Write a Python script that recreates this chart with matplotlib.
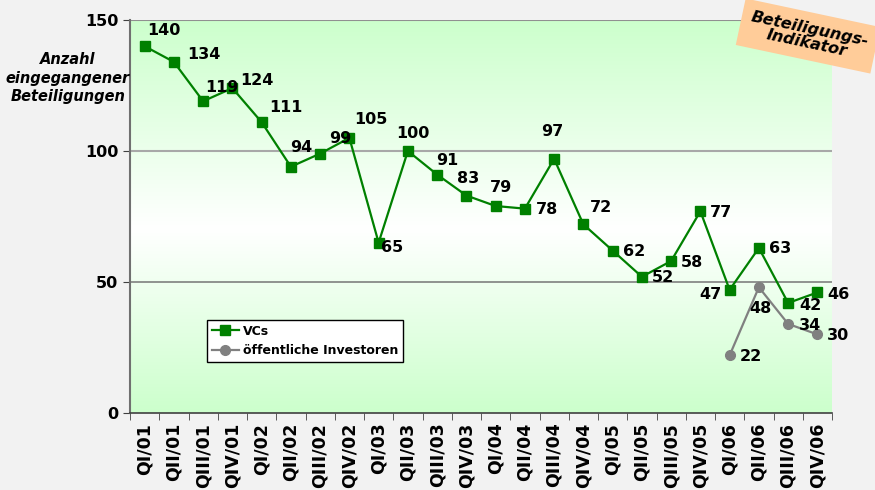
import matplotlib
matplotlib.use('Agg')
import matplotlib.pyplot as plt
import numpy as np
from matplotlib.colors import LinearSegmentedColormap

quarters = ['QI/01', 'QII/01', 'QIII/01', 'QIV/01', 'QI/02', 'QII/02', 'QIII/02', 'QIV/02',
            'QI/03', 'QII/03', 'QIII/03', 'QIV/03', 'QI/04', 'QII/04', 'QIII/04', 'QIV/04',
            'QI/05', 'QII/05', 'QIII/05', 'QIV/05', 'QI/06', 'QII/06', 'QIII/06', 'QIV/06']
vcs = [140, 134, 119, 124, 111, 94, 99, 105, 65, 100, 91, 83,
       79, 78, 97, 72, 62, 52, 58, 77, 47, 63, 42, 46]
oeff_quarters = ['QI/06', 'QII/06', 'QIII/06', 'QIV/06']
oeff = [22, 48, 34, 30]

# label offsets in pixels (dx, dy), dy positive = up
vcs_off = [(19, 16), (30, 7), (19, 14), (25, 8), (24, 15), (10, 19), (20, 15), (21, 18),
           (13, -5), (5, 18), (10, 14), (2, 17), (5, 19), (22, -1), (-2, 27), (18, 17),
           (21, -1), (21, -1), (21, -1), (21, -1), (-19, -5), (21, -1), (22, -3), (21, -2)]
oeff_off = [(21, -1), (2, -21), (22, -2), (21, -1)]

fig = plt.figure(figsize=(8.75, 4.9), dpi=100)
fig.patch.set_facecolor('#f2f2f2')
ax = fig.add_axes([130 / 875, 77 / 490, 702 / 875, 393 / 490])

n = len(quarters)
x = np.arange(n)
ax.set_xlim(-0.5, n - 0.5)
ax.set_ylim(0, 150)

# background gradient: green top and bottom, white in between
cmap = LinearSegmentedColormap.from_list('bg', [(0, '#ccffcc'), (70 / 150, '#ffffff'), (1, '#ccffcc')])
grad = np.linspace(0, 1, 256).reshape(-1, 1)
ax.imshow(grad, extent=(-0.5, n - 0.5, 0, 150), origin='lower', aspect='auto', cmap=cmap, zorder=0)

ax.axhline(50, color='#808080', lw=1.2, zorder=1)
ax.axhline(100, color='#a8a8a8', lw=1.5, zorder=1)
ax.axhline(150, color='#909090', lw=1.5, zorder=1)

ax.plot(x, vcs, color='#008000', marker='s', markersize=7, lw=1.6, label='VCs', zorder=3)
ox = [quarters.index(q) for q in oeff_quarters]
ax.plot(ox, oeff, color='#808080', marker='o', markersize=7, lw=1.6,
        label='öffentliche Investoren', zorder=3)

for xi, v, (dx, dy) in zip(x, vcs, vcs_off):
    ax.annotate(str(v), (xi, v), xytext=(dx, dy), textcoords='offset pixels',
                ha='center', va='center', fontsize=11.5, fontweight='bold', zorder=4)
for xi, v, (dx, dy) in zip(ox, oeff, oeff_off):
    ax.annotate(str(v), (xi, v), xytext=(dx, dy), textcoords='offset pixels',
                ha='center', va='center', fontsize=11.5, fontweight='bold', zorder=4)

ax.set_yticks([0, 50, 100, 150])
ax.set_yticklabels(['0', '50', '100', '150'], fontsize=11.5, fontweight='bold')
ax.set_xticks(x)
ax.set_xticklabels(quarters, rotation=90, fontsize=12.5, fontweight='bold', va='top')
ax.set_xticks(np.arange(-0.5, n), minor=True)
ax.tick_params(axis='x', which='major', length=0, pad=7)
ax.tick_params(axis='x', which='minor', length=5, color='#404040')
ax.tick_params(axis='y', length=5, color='#404040')

for s in ['top', 'right']:
    ax.spines[s].set_visible(False)
ax.spines['left'].set_color('#707070')
ax.spines['bottom'].set_color('#404040')
ax.spines['left'].set_linewidth(1.5)
ax.spines['bottom'].set_linewidth(1.2)

leg = ax.legend(loc='lower left', bbox_to_anchor=(0.109, 0.13),
                prop={'weight': 'bold', 'size': 9}, frameon=True, fancybox=False,
                borderpad=0.4, labelspacing=0.5, handlelength=2.2, handletextpad=0.3,
                borderaxespad=0)
leg.get_frame().set_edgecolor('black')
leg.get_frame().set_facecolor('white')
leg.get_frame().set_alpha(1)

fig.text(68 / 875, 1 - 78 / 490, 'Anzahl\neingegangener\nBeteiligungen', ha='center', va='center',
         fontsize=10.5, fontweight='bold', fontstyle='italic', linespacing=1.3)

fig.text(808 / 875, 1 - 36 / 490, 'Beteiligungs-\nIndikator', ha='center', va='center',
         fontsize=11.5, fontweight='bold', fontstyle='italic', rotation=-12, linespacing=1.0,
         bbox=dict(boxstyle='square,pad=0.55', facecolor='#ffcc99', edgecolor='none'))

fig.savefig('out.png', dpi=100, facecolor=fig.get_facecolor())
